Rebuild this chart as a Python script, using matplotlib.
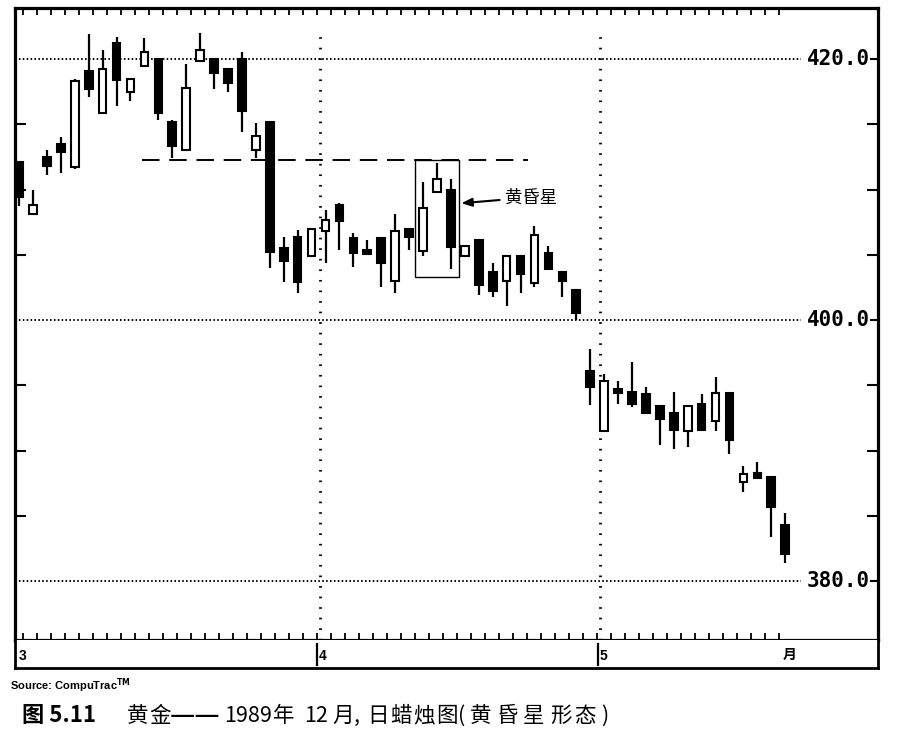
import matplotlib
matplotlib.use("Agg")
import matplotlib.pyplot as plt
from matplotlib.patches import Rectangle

plt.rcParams['font.family'] = ['Noto Sans CJK SC', 'DejaVu Sans']

# ---- data ----
opens = [412.1, 408.1, 412.5, 413.5, 411.7, 419.1, 415.9, 421.2, 417.5, 419.5,
         420.0, 415.2, 413.0, 419.85, 420.0, 419.2, 420.0, 413.0, 415.2, 405.5,
         406.4, 404.9, 406.8, 408.8, 406.3, 405.3, 406.3, 403.0, 407.0, 405.3,
         409.8, 410.0, 404.9, 406.1, 403.7, 403.0, 404.9, 402.8, 405.1, 403.7,
         402.3, 396.1, 391.5, 394.7, 394.5, 394.3, 393.4, 392.9, 391.5, 393.6,
         392.3, 394.4, 387.6, 388.3, 388.0, 384.3]
highs = [412.1, 410.0, 413.0, 414.0, 418.5, 421.9, 420.7, 421.7, 418.5, 421.6,
         420.0, 415.3, 419.6, 422.0, 420.0, 419.3, 420.5, 415.1, 415.2, 406.4,
         406.9, 407.0, 408.4, 409.0, 406.7, 406.1, 406.3, 408.1, 407.0, 410.6,
         412.0, 410.8, 405.7, 406.1, 404.4, 404.9, 404.9, 407.2, 405.7, 403.7,
         402.3, 397.8, 395.9, 395.3, 396.8, 394.9, 393.4, 394.5, 393.4, 394.3,
         395.6, 394.4, 388.8, 389.1, 388.0, 385.2]
lows = [408.7, 408.1, 411.1, 411.3, 411.6, 417.1, 415.9, 416.4, 416.8, 419.5,
        415.3, 412.4, 413.0, 419.85, 417.7, 417.5, 414.4, 412.4, 404.0, 402.9,
        402.1, 404.9, 404.4, 405.4, 404.1, 405.1, 402.5, 402.1, 405.4, 404.9,
        409.8, 403.9, 404.8, 401.9, 401.8, 401.1, 402.1, 402.5, 403.9, 401.8,
        400.0, 393.5, 391.5, 393.6, 393.3, 392.9, 390.4, 390.1, 390.3, 391.6,
        391.5, 389.7, 386.8, 387.9, 383.4, 381.4]
closes = [409.4, 408.8, 411.8, 412.9, 418.3, 417.7, 419.2, 418.4, 418.5, 420.5,
          415.9, 413.3, 417.8, 420.7, 418.9, 418.2, 416.0, 414.1, 405.2, 404.5,
          402.9, 407.0, 407.7, 407.6, 405.1, 405.1, 404.4, 406.8, 406.4, 408.6,
          410.8, 405.6, 405.7, 402.7, 402.2, 404.9, 403.5, 406.5, 403.9, 403.0,
          400.5, 394.9, 395.3, 394.4, 393.6, 392.9, 392.4, 391.6, 393.4, 391.6,
          394.4, 390.8, 388.2, 387.9, 385.7, 382.1]

price_labels = ["420.0", "400.0", "380.0"]
price_levels = [420, 400, 380]
minor_levels = [385, 390, 395, 405, 410, 415]
month_labels = ["3", "4", "5", "月"]
support_level = 412.26
pattern_label = "黄昏星"
source_text = "Source: CompuTrac"
caption_fig = "图 5.11"
caption_tokens = ["黄", "金", "——", "1989", "年", "12", "月", ",", "日", "蜡",
                  "烛", "图", "(", "黄", "昏", "星", "形", "态", ")"]

# ---- figure ----
W, H = 922, 730
fig = plt.figure(figsize=(W / 100, H / 100), dpi=100)
fig.patch.set_facecolor("white")

L, R, T, B = 15, 878, 8, 640
ax = fig.add_axes([L / W, 1 - B / H, (R - L) / W, (B - T) / H])
ax.set_xlim(-0.29, 61.66)
ax.set_ylim(375.48, 423.91)
for s in ax.spines.values():
    s.set_linewidth(2.3)
    s.set_color("black")

# ticks
xt = [k * 1.005 + 0.3 for k in range(55)]
ax.set_xticks(xt)
ax.set_xticklabels([])
ax.tick_params(axis='x', which='major', direction='in', length=5, width=1.3,
               top=True, bottom=True)
ax.set_yticks(minor_levels)
ax.set_yticklabels([])
ax.tick_params(axis='y', which='major', direction='in', length=8, width=1.5,
               left=True, right=True)

# grid lines at labelled levels
label_start = (801 - L) / (R - L)
for lv, lab in zip(price_levels, price_labels):
    ax.axhline(lv, xmin=0, xmax=label_start, color="black", lw=1.4,
               ls=(0, (0.8, 1.2)), zorder=1)
    ax.text((870 - L) / (R - L), lv, lab, transform=ax.get_yaxis_transform(),
            ha="right", va="center", fontsize=15, fontweight="bold",
            family="DejaVu Sans Mono", color="black", zorder=3)
    ax.plot([(871 - L) / (R - L), 1.0], [lv, lv], color="black", lw=1.5,
            transform=ax.get_yaxis_transform(), clip_on=False)

# month separators
vtop = 420 - (33 - 59) / 13.05
for xv in [21.6, 41.7]:
    ax.plot([xv, xv], [375.48, vtop], color="black", lw=2.0,
            ls=(0, (0.6, 3.2)), zorder=1)

# support dashed line
ax.plot([8.83, 36.5], [support_level, support_level], color="black", lw=1.4,
        ls=(0, (9, 5)), zorder=1)

# candles
bw = 0.55
for i, (o, h, l, c) in enumerate(zip(opens, highs, lows, closes)):
    ax.plot([i, i], [l, h], color="black", lw=1.6, zorder=2,
            solid_capstyle="butt")
    lo, hi = min(o, c), max(o, c)
    if hi - lo < 0.25:
        mid = (hi + lo) / 2
        lo, hi = mid - 0.15, mid + 0.15
    face = "black" if c < o else "white"
    ax.add_patch(Rectangle((i - bw / 2, lo), bw, hi - lo, facecolor=face,
                           edgecolor="black", lw=1.5, zorder=3))

# evening star box
ax.add_patch(Rectangle((28.43, 403.3), 3.16, 8.96, fill=False,
                       edgecolor="black", lw=1.0, zorder=2))
ax.annotate(pattern_label, xy=(31.75, 408.95), xytext=(34.9, 409.4),
            fontsize=12.5, va="center", ha="left",
            arrowprops=dict(arrowstyle="-|>,head_length=0.5,head_width=0.2",
                            color="black", lw=1.5, shrinkA=2, shrinkB=0))

# bottom date strip
SB = 668
ax2 = fig.add_axes([L / W, 1 - SB / H, (R - L) / W, (SB - B) / H])
ax2.set_xlim(-0.29, 61.66)
ax2.set_ylim(0, 1)
ax2.set_xticks([])
ax2.set_yticks([])
for s in ax2.spines.values():
    s.set_linewidth(2.0)
ax2.spines['top'].set_visible(False)
ax2.text(0.0, 0.42, month_labels[0], fontsize=10, fontweight="bold",
         family="Liberation Sans", va="center", ha="left")
for xv, lab in [(21.4, month_labels[1]), (41.55, month_labels[2])]:
    ax2.plot([xv, xv], [0.12, 0.85], color="black", lw=1.6)
    ax2.text(xv + 0.12, 0.42, lab, fontsize=10, fontweight="bold",
             family="Liberation Sans", va="center", ha="left")
ax2.text(54.8, 0.45, month_labels[3], fontsize=10, fontweight="bold",
         va="center", ha="left")

# source & caption
fig.text(10 / W, 1 - 686 / H, source_text + r"$^{\mathbf{TM}}$", fontsize=8,
         fontweight="bold", family="Liberation Sans", va="center", ha="left")
cy = 1 - 716 / H
fig.text(22 / W, cy, caption_fig, fontsize=16, fontweight="bold",
         va="center", ha="left")
token_x = [127, 149, 170, 224, 273, 304, 332, 354, 367, 390, 413, 436,
           458, 470, 497, 523, 550, 574, 601]
for xpx, tok in zip(token_x, caption_tokens):
    size = 20.5 if tok == "——" else 15.5
    fig.text(xpx / W, cy, tok, fontsize=size, va="center", ha="left")

fig.savefig("out.png", dpi=100, facecolor="white")
